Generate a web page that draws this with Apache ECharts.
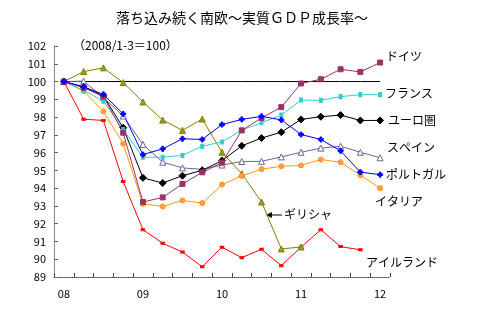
<!DOCTYPE html>
<html><head><meta charset="utf-8">
<script src="https://cdn.jsdelivr.net/npm/echarts@6/dist/echarts.min.js"></script>
<style>html,body{margin:0;padding:0;background:#fff}#c{width:480px;height:324px}</style>
</head><body><div id="c"></div>
<script>
const categories = ['08','08Q2','08Q3','08Q4','09','09Q2','09Q3','09Q4','10','10Q2','10Q3','10Q4','11','11Q2','11Q3','11Q4','12'];
const tickLabels = {0:'08',4:'09',8:'10',12:'11',16:'12'};
const baseline = [100,100,100,100,100,100,100,100,100,100,100,100,100,100,100,100,100];
const germany  = [100,99.65,99.15,97.12,93.22,93.48,94.24,94.89,95.44,97.25,97.95,98.56,99.89,100.13,100.69,100.54,101.07];
const france   = [100,99.5,98.9,97.3,95.74,95.74,95.84,96.36,96.6,97.27,97.68,98.11,98.96,98.94,99.15,99.26,99.26];
const euro     = [100,99.7,99.19,97.4,94.58,94.29,94.7,95.0,95.55,96.38,96.82,97.15,97.87,98.02,98.11,97.81,97.81];
const spain    = [100,100.02,99.1,98.06,96.46,95.46,95.14,95.06,95.3,95.5,95.51,95.76,96.02,96.25,96.36,96.02,95.71];
const portugal = [100,99.7,99.28,98.18,95.89,96.21,96.78,96.74,97.58,97.87,98.04,97.84,97.02,96.74,96.1,94.9,94.76];
const italy    = [100,99.47,98.32,96.5,93.11,92.97,93.31,93.16,94.2,94.69,95.07,95.23,95.28,95.61,95.46,94.73,94.0];
const greece   = [100,100.56,100.77,99.94,98.85,97.83,97.25,97.89,96.02,94.81,93.22,90.58,90.69,null,null,null,null];
const ireland  = [100,97.88,97.81,94.38,91.66,90.9,90.4,89.58,90.68,90.09,90.56,89.64,90.68,91.66,90.71,90.53,null];
const yTicks = {min:89,max:102,interval:1};

const FONT = '"Noto Sans CJK JP", sans-serif';
const chart = echarts.init(document.getElementById('c'));
function line(name, data, color, symbol, size, fill, z) {
  return {name, type:'line', data, symbol, symbolSize:size, showSymbol:symbol!=='none',
    lineStyle:{color, width:1}, itemStyle:{color:fill||color, borderColor:color, borderWidth:1},
    emphasis:{disabled:true}, animation:false, z:z||2, connectNulls:false};
}
const plus = 'path://M2,0h2v2h2v2h-2v2h-2v-2h-2v-2h2z';
chart.setOption({
  animation:false,
  title:{text:'落ち込み続く南欧～実質ＧＤＰ成長率～', left:237, textAlign:'center', top:6,
    textStyle:{fontFamily:FONT, fontSize:14, fontWeight:'normal', color:'#000'}},
  grid:{left:54, right:90, top:46, bottom:47},
  xAxis:{type:'category', data:categories, boundaryGap:true,
    axisLine:{show:true, lineStyle:{color:'#444', type:[1,1]}},
    axisTick:{show:true, inside:true, length:4, interval:0, lineStyle:{color:'#444'}},
    axisLabel:{interval:0, formatter:(v,i)=>tickLabels[i]||'', margin:11, fontFamily:FONT, fontSize:11, color:'#000'},
    splitLine:{show:false}},
  yAxis:{type:'value', position:'left', min:yTicks.min, max:yTicks.max, interval:yTicks.interval,
    axisLine:{show:true, onZero:false, lineStyle:{color:'#888', width:1, type:'solid'}},
    axisTick:{show:true, inside:true, length:4, lineStyle:{color:'#666'}},
    axisLabel:{margin:8, fontFamily:FONT, fontSize:11, color:'#000'},
    splitLine:{show:false}},
  series:[
    line('基準', baseline, '#000000', 'none', 0, null, 1),
    line('アイルランド', ireland, '#FF0000', 'rect', [3,2]),
    line('ギリシャ', greece, '#808000', 'triangle', 6, '#999933'),
    line('イタリア', italy, '#FF9900', 'circle', 5, '#FF9966'),
    line('スペイン', spain, '#666699', 'triangle', 6, '#ffffff'),
    line('ユーロ圏', euro, '#000000', 'diamond', 7),
    line('フランス', france, '#33CCCC', 'rect', [3,4]),
    line('ドイツ', germany, '#993366', 'rect', 5),
    line('ポルトガル', portugal, '#0000FF', plus, 5)
  ],
  graphic:[
    {type:'text', left:73, top:39, style:{text:'（2008/1-3＝100）', font:'12px '+FONT, fill:'#000'}},
    {type:'text', left:386, top:50, style:{text:'ドイツ', font:'12px '+FONT, fill:'#000'}},
    {type:'text', left:385, top:87, style:{text:'フランス', font:'12px '+FONT, fill:'#000'}},
    {type:'text', left:388, top:114, style:{text:'ユーロ圏', font:'12px '+FONT, fill:'#000'}},
    {type:'text', left:387, top:141, style:{text:'スペイン', font:'12px '+FONT, fill:'#000'}},
    {type:'text', left:386, top:168, style:{text:'ポルトガル', font:'12px '+FONT, fill:'#000'}},
    {type:'text', left:375, top:195, style:{text:'イタリア', font:'12px '+FONT, fill:'#000'}},
    {type:'text', left:366, top:256, style:{text:'アイルランド', font:'12px '+FONT, fill:'#000'}},
    {type:'text', left:284, top:208, style:{text:'ギリシャ', font:'12px '+FONT, fill:'#000'}},
    {type:'line', shape:{x1:270, y1:215, x2:282, y2:215}, style:{stroke:'#000', lineWidth:1}},
    {type:'polygon', shape:{points:[[266,215],[272,212],[272,218]]}, style:{fill:'#000'}}
  ]
});
</script></body></html>
